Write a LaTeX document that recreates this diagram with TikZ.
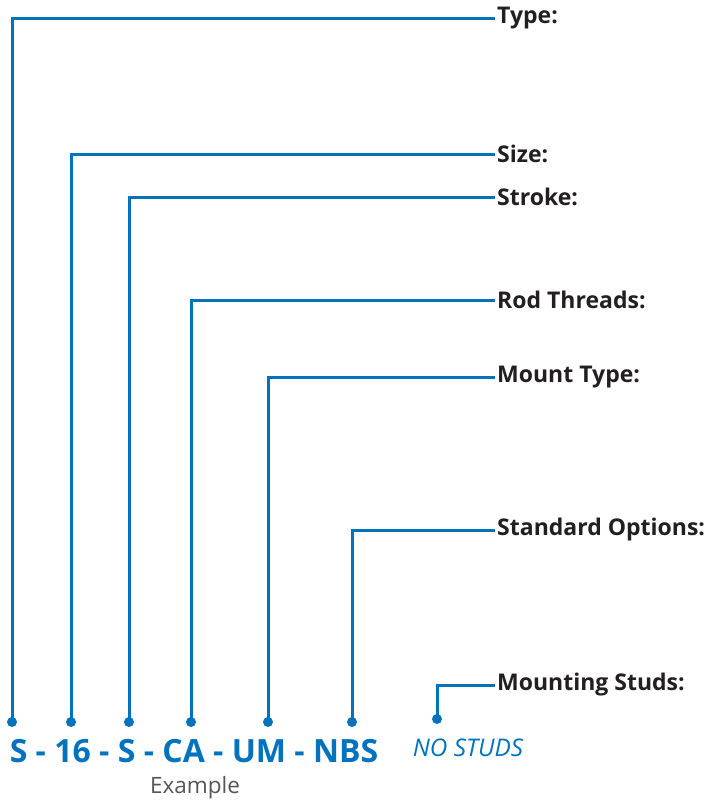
\documentclass[tikz,border=0pt]{standalone}
\usepackage{fontspec}
\setmainfont{Open Sans}
\definecolor{lblue}{RGB}{0,114,190}
\definecolor{ink}{RGB}{35,31,32}
\definecolor{graytxt}{RGB}{85,85,85}
\begin{document}
\begin{tikzpicture}[x=1pt,y=-1pt,
  lead/.style={draw=lblue,line width=3pt},
  lbl/.style={anchor=west,inner sep=0pt,text=ink,font=\fontsize{23}{24}\selectfont\bfseries},
  dotn/.style={circle,fill=lblue,inner sep=0pt,minimum size=10pt}]
\useasboundingbox (0,0) rectangle (705,801);
% labels
\node[lbl] (t1) at (497,18) {Type:};
\node[lbl] (t2) at (497,154) {Size:};
\node[lbl] (t3) at (497,197) {Stroke:};
\node[lbl] (t4) at (497,300) {Rod Threads:};
\node[lbl] (t5) at (497,377) {Mount Type:};
\node[lbl] (t6) at (497,530) {Standard Options:};
\node[lbl] (t7) at (497,685) {Mounting Studs:};
% dots
\node[dotn] (d1) at (12,722) {};
\node[dotn] (d2) at (71,722) {};
\node[dotn] (d3) at (129,722) {};
\node[dotn] (d4) at (191,722) {};
\node[dotn] (d5) at (268,722) {};
\node[dotn] (d6) at (352,722) {};
\node[dotn] (d7) at (437,719) {};
% leaders
\draw[lead] (d1.center) |- ([xshift=-2pt]t1.west);
\draw[lead] (d2.center) |- ([xshift=-2pt]t2.west);
\draw[lead] (d3.center) |- ([xshift=-2pt]t3.west);
\draw[lead] (d4.center) |- ([xshift=-2pt]t4.west);
\draw[lead] (d5.center) |- ([xshift=-2pt]t5.west);
\draw[lead] (d6.center) |- ([xshift=-2pt]t6.west);
\draw[lead] (d7.center) |- ([xshift=-2pt]t7.west);
% code
\node[inner sep=0pt,text=lblue,font=\fontsize{32}{34}\selectfont\bfseries] (code) at (194,751) {S - 16 - S - CA - UM - NBS};
\node[inner sep=0pt,text=lblue,font=\fontsize{24.3}{26}\selectfont\itshape] (nostuds) at (468,748) {NO STUDS};
\node[inner sep=0pt,text=graytxt,font=\fontsize{22.5}{24}\selectfont] (ex) at (195,788) {Example};
\end{tikzpicture}
\end{document}
